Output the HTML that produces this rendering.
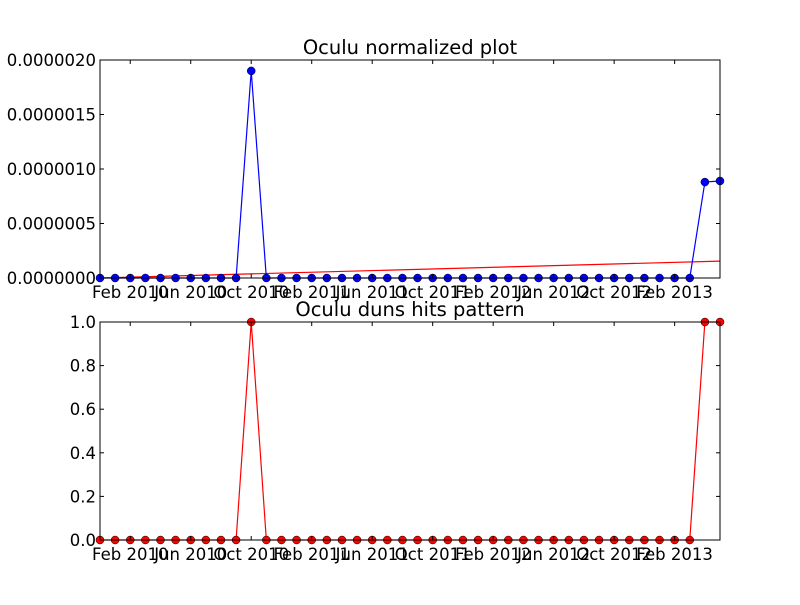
<!DOCTYPE html>
<html><head><meta charset="utf-8">
<style>
body{margin:0;background:#fff;}
svg text{font-family:"DejaVu Sans","Liberation Sans",sans-serif;font-size:16.5px;fill:#000;}
svg text.title{font-size:19.5px;}
</style></head>
<body>
<svg id="c" width="800" height="600" xmlns="http://www.w3.org/2000/svg"></svg>
<script>
const tickLabels=["Feb 2010","Jun 2010","Oct 2010","Feb 2011","Jun 2011","Oct 2011","Feb 2012","Jun 2012","Oct 2012","Feb 2013"];
const tickIdx=[2,6,10,14,18,22,26,30,34,38];
const normValues=[0,0,0,0,0,0,0,0,0,0,1.9e-6,0,0,0,0,0,0,0,0,0,0,0,0,0,0,0,0,0,0,0,0,0,0,0,0,0,0,0,0,0,0.88e-6,0.89e-6];
const trendStart=0;
const trendEnd=0.155e-6;
const hitValues=[0,0,0,0,0,0,0,0,0,0,1,0,0,0,0,0,0,0,0,0,0,0,0,0,0,0,0,0,0,0,0,0,0,0,0,0,0,0,0,0,1,1];
const topYTicks=[0,5e-7,1e-6,1.5e-6,2e-6];
const topYLabels=["0.0000000","0.0000005","0.0000010","0.0000015","0.0000020"];
const botYTicks=[0,0.2,0.4,0.6,0.8,1.0];
const botYLabels=["0.0","0.2","0.4","0.6","0.8","1.0"];
const NS="http://www.w3.org/2000/svg";
const svg=document.getElementById('c');
function mk(t,a,p){const e=document.createElementNS(NS,t);for(const k in a)e.setAttribute(k,a[k]);(p||svg).appendChild(e);return e;}
const L=100,R=720,n=normValues.length;
const xs=i=>L+(R-L)*i/(n-1);
function panel(name,top,bot,ymax,yt,yl,title,vals,color,trend){
  const g=mk('g',{});
  
  
  const ys=v=>bot-(bot-top)*v/ymax;
  const t=mk('text',{x:410,y:top-6,'text-anchor':'middle','class':'title'},g);t.textContent=title;
  
  
  if(trend){const tl=mk('line',{x1:L,y1:ys(trendStart),x2:R,y2:ys(trendEnd),stroke:'red','stroke-width':1.2},g);
    
    }
  const pl=mk('polyline',{points:vals.map((v,i)=>xs(i)+','+ys(v)).join(' '),fill:'none',stroke:color,'stroke-width':1.2},g);
  
  
  vals.forEach((v,i)=>{const c=mk('circle',{cx:xs(i),cy:ys(v),r:4,fill:color,stroke:'#000','stroke-width':0.5},g);
    
    });
  const fr=mk('rect',{x:L,y:top,width:R-L,height:bot-top,fill:'none',stroke:'#000','stroke-width':1},g);
  
  
  yt.forEach((v,i)=>{const y=ys(v);
    mk('line',{x1:L,y1:y,x2:L+4,y2:y,stroke:'#000'},g);mk('line',{x1:R,y1:y,x2:R-4,y2:y,stroke:'#000'},g);
    const tx=mk('text',{x:L-4,y:y+6,'text-anchor':'end'},g);tx.textContent=yl[i];
    
    });
  tickIdx.forEach((ti,i)=>{const x=xs(ti);
    mk('line',{x1:x,y1:bot,x2:x,y2:bot-4,stroke:'#000'},g);mk('line',{x1:x,y1:top,x2:x,y2:top+4,stroke:'#000'},g);
    const tx=mk('text',{x:x,y:bot+20,'text-anchor':'middle'},g);tx.textContent=tickLabels[i];
    
    });
}
panel('normalized-plot',60,278,2e-6,topYTicks,topYLabels,'Oculu normalized plot',normValues,'blue',true);
panel('hits-pattern',322,540,1,botYTicks,botYLabels,'Oculu duns hits pattern',hitValues,'red',false);
</script>
</body></html>
